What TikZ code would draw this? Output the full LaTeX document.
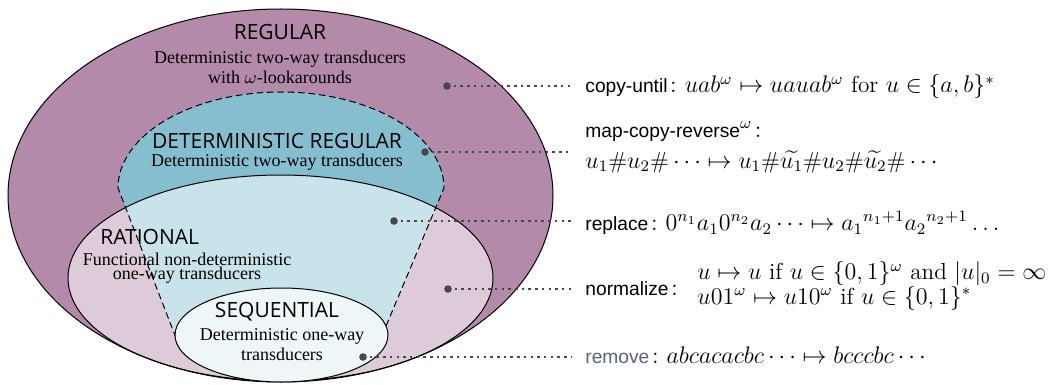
\documentclass[tikz,border=0pt]{standalone}
\usepackage{fontspec}
\usepackage{amsmath,amssymb}
\newfontfamily\titlefont{Open Sans}
\newfontfamily\serfont{Liberation Serif}
\newfontfamily\lblfont{Liberation Sans}
\definecolor{regcol}{HTML}{B38AA9}
\definecolor{detcol}{HTML}{85BFCF}
\definecolor{ratcol}{HTML}{DDCBD9}
\definecolor{intcol}{HTML}{C9E3EA}
\definecolor{seqcol}{HTML}{EEF6F8}
\definecolor{dotcol}{HTML}{484848}
\definecolor{remcol}{HTML}{5B6478}
\tikzset{
  title/.style={font=\titlefont\fontsize{10.5}{12}\selectfont, inner sep=0pt},
  desc/.style={font=\serfont\fontsize{9}{10}\selectfont, align=center, inner sep=0pt},
  lbl/.style={font=\fontsize{11.6}{13}\selectfont, inner sep=0pt, anchor=west, align=left},
  dotnode/.style={circle, fill=dotcol, inner sep=0pt, minimum size=3.8pt},
  dotline/.style={draw=dotcol, line width=1.25pt, dash pattern=on 1.25pt off 2.1pt},
  dashline/.style={line width=0.5pt, dash pattern=on 3.3pt off 1.9pt},
}
\newcommand{\sfl}[1]{{\lblfont\fontsize{9.6}{12}\selectfont #1}}
\begin{document}
\begin{tikzpicture}[x=0.5pt,y=-0.5pt]
\useasboundingbox (0,0) rectangle (1059,385);
\def\detpath{(118,188) arc[start angle=180,end angle=0,x radius=81.5pt,y radius=48pt] -- (381,338) -- (176,338) -- cycle}
% outer
\fill[regcol] (280.5,195.5) ellipse[x radius=136.25pt,y radius=93.25pt];
% deterministic regular
\fill[detcol] \detpath;
% rational
\fill[ratcol] (280.5,278) ellipse[x radius=106.25pt,y radius=51.5pt];
\begin{scope}
  \clip (280.5,278) ellipse[x radius=106.25pt,y radius=51.5pt];
  \fill[intcol] \detpath;
\end{scope}
\draw[line width=0.5pt] (280.5,195.5) ellipse[x radius=136.25pt,y radius=93.25pt];
\draw[line width=0.5pt] (280.5,278) ellipse[x radius=106.25pt,y radius=51.5pt];
\draw[dashline] (176,338) -- (118,188) arc[start angle=180,end angle=0,x radius=81.5pt,y radius=48pt] -- (381,338);
% sequential
\draw[line width=0.5pt, fill=seqcol] (281.5,335) ellipse[x radius=53.25pt,y radius=23.5pt];

% titles
\node[title] (regt) at (280,32) {REGULAR};
\node[desc] (regd) at (280,67) {Deterministic two-way transducers\\with $\omega$-lookarounds};
\node[title] (dett) at (277,141) {DETERMINISTIC REGULAR};
\node[desc] (detd) at (277,162) {Deterministic two-way transducers};
\node[title, anchor=west] (ratt) at (100,237) {RATIONAL};
\node[desc, font=\serfont\fontsize{9}{7}\selectfont] (ratd) at (187,268) {Functional non-deterministic\\one-way transducers};
\node[title] (seqt) at (277,312) {SEQUENTIAL};
\node[desc] (seqd) at (282,345) {Deterministic one-way\\transducers};

% examples
\node[lbl] (t1) at (585,87) {\sfl{copy-until}$\colon uab^{\omega}\mapsto uauab^{\omega}$ for $u\in\{a,b\}^*$};
\node[lbl, font=\fontsize{11.6}{15.5}\selectfont] (t2) at (585,147) {\sfl{map-copy-reverse}$^{\omega}\colon$\\ $u_1\#u_2\#\cdots\mapsto u_1\#\widetilde{u_1}\#u_2\#\widetilde{u_2}\#\cdots$};
\node[lbl] (t3) at (585,223) {\sfl{replace}$\colon 0^{n_1}a_1 0^{n_2}a_2\cdots\mapsto {a_1}^{n_1+1}{a_2}^{n_2+1}\ldots$};
\node[lbl] (t4) at (585,289) {\sfl{normalize}$\colon$};
\node[lbl, font=\fontsize{11.6}{12.2}\selectfont] (t4b) at (697,286) {$u\mapsto u$ if $u\in\{0,1\}^{\omega}$ and $|u|_0=\infty$\\ $u01^{\omega}\mapsto u10^{\omega}$ if $u\in\{0,1\}^*$};
\node[lbl] (t5) at (585,355) {\textcolor{remcol}{\sfl{remove}}$\colon abcacacbc\cdots\mapsto bcccbc\cdots$};

% connectors
\node[dotnode] (d1) at (447,86) {};
\node[dotnode] (d2) at (425,152) {};
\node[dotnode] (d3) at (394,221) {};
\node[dotnode] (d4) at (448,289) {};
\node[dotnode] (d5) at (363,357) {};
\coordinate (e1) at (572,86);
\coordinate (e2) at (572,152);
\coordinate (e3) at (572,221);
\coordinate (e4) at (572,289);
\coordinate (e5) at (572,357);
\draw[dotline] (d1.center) -- (e1);
\draw[dotline] (d2.center) -- (e2);
\draw[dotline] (d3.center) -- (e3);
\draw[dotline] (d4.center) -- (e4);
\draw[dotline] (d5.center) -- (e5);
\end{tikzpicture}
\end{document}
